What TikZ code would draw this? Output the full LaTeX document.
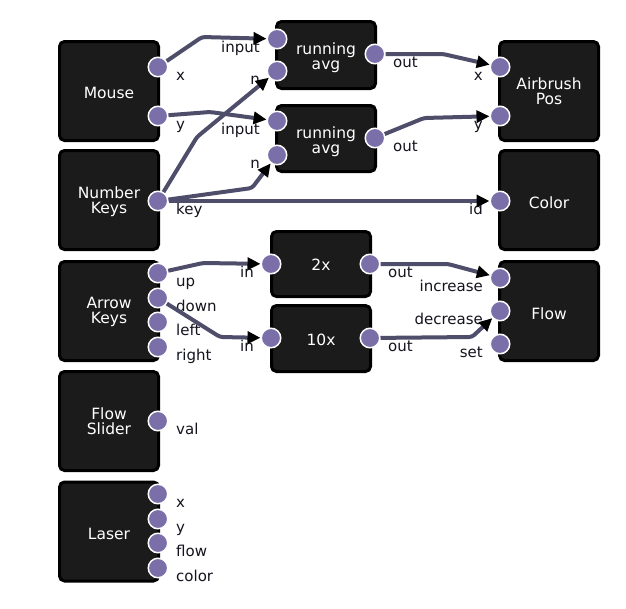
\documentclass[tikz,border=0pt]{standalone}
\usepackage{fontspec}
\setmainfont{DejaVu Sans}
\usetikzlibrary{arrows.meta}
\definecolor{boxfill}{RGB}{27,27,27}
\definecolor{portfill}{RGB}{122,111,168}
\definecolor{wirecol}{RGB}{78,78,106}
\definecolor{labeltext}{RGB}{20,20,30}
\begin{document}
\begin{tikzpicture}[x=1pt,y=-1pt,
  box/.style={draw=black,line width=3pt,fill=boxfill,rounded corners=5pt,
    inner sep=0pt,minimum width=99pt},
  sqbox/.style={box,minimum height=99pt},
  title/.style={text=white,align=center,font=\fontsize{15.5}{15}\selectfont,inner sep=0pt},
  port/.style={circle,draw=white,line width=1.5pt,fill=portfill,minimum size=19.5pt,inner sep=0pt},
  plab/.style={text=labeltext,font=\fontsize{15}{15}\selectfont,inner sep=0pt},
  rlab/.style={plab,anchor=base west,xshift=18pt,yshift=-13pt},
  llab/.style={plab,anchor=base east,xshift=-17pt,yshift=-13pt},
  wire/.style={draw=wirecol,line width=4pt,rounded corners=3pt,
    -{Triangle[length=13pt,width=12pt,color=black]}}]
\useasboundingbox[fill=white] (0,0) rectangle (626,608);
% boxes
\node[sqbox] (mouse) at (109,91) {};
\node[sqbox] (numkeys) at (109,200) {};
\node[sqbox] (arrowkeys) at (109,311) {};
\node[sqbox] (flowslider) at (109,421) {};
\node[sqbox] (laser) at (109,531.5) {};
\node[box,minimum height=67pt] (ravgA) at (326,55) {};
\node[box,minimum height=66pt] (ravgB) at (326,138.5) {};
\node[box,minimum height=65pt] (twox) at (321,264) {};
\node[box,minimum height=66pt] (tenx) at (321,338.5) {};
\node[sqbox] (airbrush) at (549,91) {};
\node[sqbox] (colorbox) at (549,200) {};
\node[sqbox] (flow) at (549,311) {};
% titles
\node[title] (tmouse) at ([yshift=-2pt]mouse.center) {Mouse};
\node[title] (tnumkeys) at ([yshift=-2pt]numkeys.center) {Number\\Keys};
\node[title] (tarrowkeys) at ([yshift=-1pt]arrowkeys.center) {Arrow\\Keys};
\node[title] (tflowslider) at (flowslider.center) {Flow\\Slider};
\node[title] (tlaser) at ([yshift=-2pt]laser.center) {Laser};
\node[title] (travgA) at ([yshift=-3pt]ravgA.center) {running\\avg};
\node[title] (travgB) at ([yshift=-3pt]ravgB.center) {running\\avg};
\node[title] (ttwox) at ([yshift=-1pt]twox.center) {2x};
\node[title] (ttenx) at ([yshift=-1pt]tenx.center) {10x};
\node[title] (tairbrush) at (airbrush.center) {Airbrush\\Pos};
\node[title] (tcolorbox) at ([yshift=-3pt]colorbox.center) {Color};
\node[title] (tflow) at ([yshift=-3pt]flow.center) {Flow};
% ports
\node[port] (mx) at (158,67) {};
\node[port] (my) at (158,116) {};
\node[port] (nk) at (158,201) {};
\node[port] (aup) at (158,273) {};
\node[port] (adown) at (158,298) {};
\node[port] (aleft) at (158,322) {};
\node[port] (aright) at (158,347) {};
\node[port] (fval) at (158,421) {};
\node[port] (lx) at (158,494) {};
\node[port] (ly) at (158,519) {};
\node[port] (lflow) at (158,543) {};
\node[port] (lcolor) at (158,568) {};
\node[port] (rAin) at (277,39) {};
\node[port] (rAn) at (277,71) {};
\node[port] (rAout) at (375,54) {};
\node[port] (rBin) at (277,121) {};
\node[port] (rBn) at (277,155) {};
\node[port] (rBout) at (375,138) {};
\node[port] (tin) at (271,264) {};
\node[port] (tout) at (370,264) {};
\node[port] (xin) at (271,338) {};
\node[port] (xout) at (370,338) {};
\node[port] (abx) at (500,67) {};
\node[port] (aby) at (500,116) {};
\node[port] (cid) at (500,201) {};
\node[port] (finc) at (500,278) {};
\node[port] (fdec) at (500,311) {};
\node[port] (fset) at (500,344) {};
% labels
\node[rlab] (lbmx) at (mx.center) {x};
\node[rlab] (lbmy) at (my.center) {y};
\node[rlab] (lbnk) at (nk.center) {key};
\node[rlab] (lbup) at (aup.center) {up};
\node[rlab] (lbdown) at (adown.center) {down};
\node[rlab] (lbleft) at (aleft.center) {left};
\node[rlab] (lbright) at (aright.center) {right};
\node[rlab] (lbval) at (fval.center) {val};
\node[rlab] (lblx) at (lx.center) {x};
\node[rlab] (lbly) at (ly.center) {y};
\node[rlab] (lblflow) at (lflow.center) {flow};
\node[rlab] (lblcolor) at (lcolor.center) {color};
\node[rlab] (lbrAout) at (rAout.center) {out};
\node[rlab] (lbrBout) at (rBout.center) {out};
\node[rlab] (lbtout) at (tout.center) {out};
\node[rlab] (lbxout) at (xout.center) {out};
\node[llab] (lbrAin) at (rAin.center) {input};
\node[llab] (lbrAn) at (rAn.center) {n};
\node[llab] (lbrBin) at (rBin.center) {input};
\node[llab] (lbrBn) at (rBn.center) {n};
\node[llab] (lbtin) at (tin.center) {in};
\node[llab] (lbxin) at (xin.center) {in};
\node[llab] (lbabx) at (abx.center) {x};
\node[llab] (lbaby) at (aby.center) {y};
\node[llab] (lbcid) at (cid.center) {id};
\node[llab] (lbfinc) at (finc.center) {increase};
\node[llab] (lbfdec) at (fdec.center) {decrease};
\node[llab] (lbfset) at (fset.center) {set};
% wires
\coordinate (b1) at (202,37);
\coordinate (b2) at (210,112);
\coordinate (b3) at (197,137);
\coordinate (b4) at (252,188);
\coordinate (b6) at (443,54);
\coordinate (b7) at (424,118);
\coordinate (b8) at (203,263);
\coordinate (b9) at (220,337);
\coordinate (b10) at (448,264);
\coordinate (b11) at (472,337);
\draw[wire] (mx) -- (b1) -- (rAin);
\draw[wire] (my) -- (b2) -- (rBin);
\draw[wire] (nk) -- (b3) -- (rAn);
\draw[wire] (nk) -- (b4) -- (rBn);
\draw[wire] (nk) -- (cid);
\draw[wire] (rAout) -- (b6) -- (abx);
\draw[wire] (rBout) -- (b7) -- (aby);
\draw[wire] (aup) -- (b8) -- (tin);
\draw[wire] (adown) -- (b9) -- (xin);
\draw[wire] (tout) -- (b10) -- (finc);
\draw[wire] (xout) -- (b11) -- (fdec);
\end{tikzpicture}
\end{document}
